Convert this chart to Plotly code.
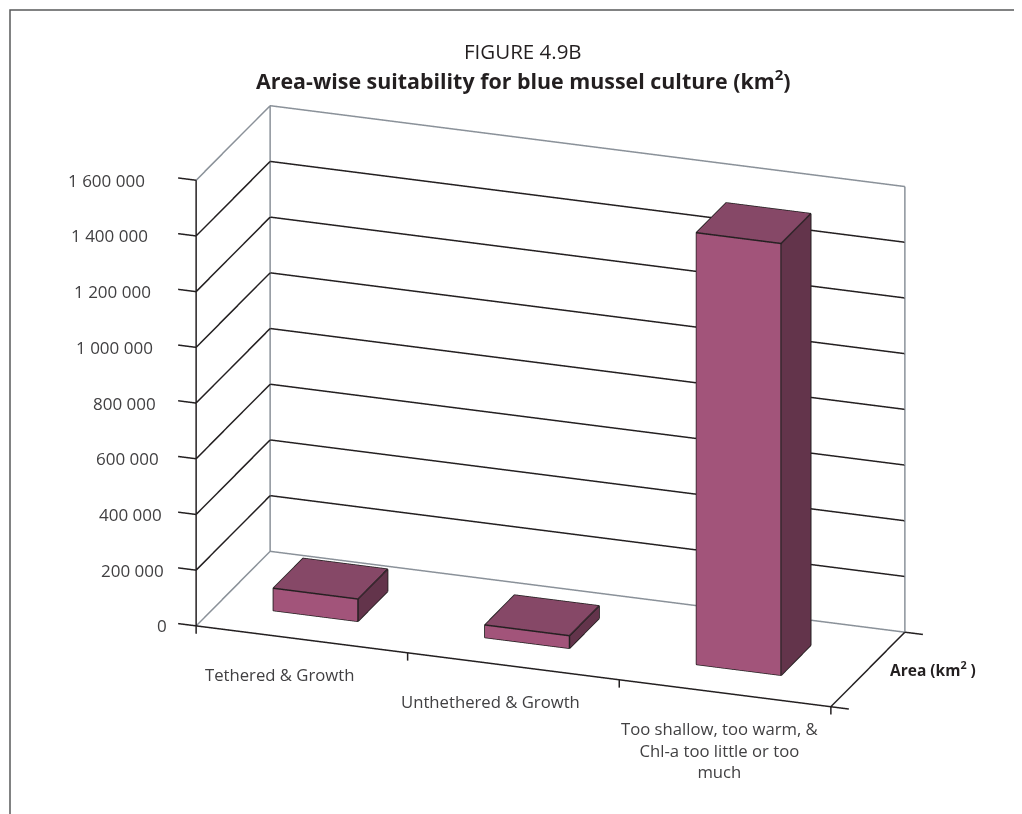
import plotly.graph_objects as go

categories = ["Tethered & Growth", "Unthethered & Growth",
              "Too shallow, too warm, &<br>Chl-a too little or too<br>much"]
values = [80000, 45000, 1550000]
z_ticks = [0, 200000, 400000, 600000, 800000, 1000000, 1200000, 1400000, 1600000]
z_labels = ["0", "200 000", "400 000", "600 000", "800 000", "1 000 000",
            "1 200 000", "1 400 000", "1 600 000"]
series_name = "Area (km<sup>2</sup> )"

FRONT, TOP, SIDE = "#a2547a", "#864867", "#63344b"
EDGE, WALL = "#231f20", "#8a9199"
TEXT = "#414042"
BAR_W, BAR_D, BAR_C = 0.40, 0.40, 0.46
LABEL_SHIFT = [-22, -23, -5]
TICK_DX, TICK_DZ = 0.085, 28000
FONT = "Open Sans"
zmax = z_ticks[-1]
ncat = len(categories)
LW = 3

fig = go.Figure()


def seg(xs, ys, zs, col=EDGE):
    fig.add_trace(go.Scatter3d(x=xs, y=ys, z=zs, mode="lines",
                               line=dict(color=col, width=LW), showlegend=False, hoverinfo="skip"))


# walls / floor frame
seg([0, 0, ncat, ncat], [0, 1, 1, 0], [0, 0, 0, 0], WALL)
seg([0, 0, ncat, ncat], [0, 1, 1, 1], [zmax] * 4, WALL)
seg([0, 0], [1, 1], [0, zmax], WALL)
seg([ncat, ncat], [1, 1], [0, zmax], WALL)

# gridlines on the two walls
for t in z_ticks[1:-1]:
    seg([0, 0, ncat], [0, 1, 1], [t, t, t])

# axis lines and tick marks
seg([0, ncat], [0, 0], [0, 0])
seg([ncat, ncat], [0, 1], [0, 0])
seg([0, 0], [0, 0], [0, zmax])
for t in z_ticks:
    seg([0, -TICK_DX], [0, 0], [t, t])
for k in range(ncat + 1):
    seg([k, k], [0, 0], [0, -TICK_DZ])
for d in (0, 1):
    seg([ncat, ncat + TICK_DX], [d, d], [0, 0])

# bars
for i, v in enumerate(values):
    x0, x1 = i + BAR_C - BAR_W / 2, i + BAR_C + BAR_W / 2
    y0, y1 = 0.5 - BAR_D / 2, 0.5 + BAR_D / 2
    vx = [x0, x1, x1, x0, x0, x1, x1, x0]
    vy = [y0, y0, y1, y1, y0, y0, y1, y1]
    vz = [0, 0, 0, 0, v, v, v, v]
    faces = [(0, 1, 5, FRONT), (0, 5, 4, FRONT), (1, 2, 6, SIDE), (1, 6, 5, SIDE),
             (4, 5, 6, TOP), (4, 6, 7, TOP)]
    fig.add_trace(go.Mesh3d(x=vx, y=vy, z=vz,
                            i=[f[0] for f in faces], j=[f[1] for f in faces], k=[f[2] for f in faces],
                            facecolor=[f[3] for f in faces], flatshading=True,
                            lighting=dict(ambient=1, diffuse=0, specular=0, fresnel=0, roughness=1),
                            showscale=False, hoverinfo="skip"))
    seg([x0, x1, x1, x0, x0, x0, x1, None, x1, x1, x1, None, x1, x1],
        [y0, y0, y1, y1, y0, y0, y0, None, y0, y0, y1, None, y1, y1],
        [v, v, v, v, v, 0, 0, None, v, 0, 0, None, 0, v])

annots = [dict(x=i + 0.5, y=0, z=0, text=c, showarrow=False, yanchor="top", yshift=-22, xshift=LABEL_SHIFT[i],
               font=dict(family=FONT, size=16.7, color=TEXT)) for i, c in enumerate(categories)]
annots.append(dict(x=ncat, y=0.5, z=0, text="<b>" + series_name + "</b>", showarrow=False,
                   xanchor="left", xshift=20, font=dict(family=FONT, size=15.5, color=EDGE)))
annots += [dict(x=0, y=0, z=t, text=l, showarrow=False, xanchor="right", xshift=-27 - 22 * t / zmax,
                font=dict(family=FONT, size=17, color=TEXT)) for t, l in zip(z_ticks, z_labels)]

hidden = dict(showbackground=False, showgrid=False, zeroline=False, showline=False, ticks="",
              showticklabels=False, title=dict(text=""), showspikes=False)
W, H = 1014, 806   # the page adds an 8 px body margin
fig.update_layout(
    width=W, height=H, margin=dict(l=0, r=0, t=0, b=0), autosize=False,
    paper_bgcolor="white", showlegend=False,
    annotations=[
        dict(xref="paper", yref="paper", x=515 / W, y=1 - 43 / H, text="FIGURE 4.9B", showarrow=False,
             xanchor="center", yanchor="middle", font=dict(family=FONT, size=20.5, color=EDGE)),
        dict(xref="paper", yref="paper", x=515 / W, y=1 - 71 / H,
             text="<b>Area-wise suitability for blue mussel culture (km<sup>2</sup>)</b>", showarrow=False,
             xanchor="center", yanchor="middle", font=dict(family=FONT, size=21.4, color=EDGE)),
    ],
    scene=dict(
        domain=dict(x=[0.07, 1], y=[0.005, 1]),
        aspectmode="manual", aspectratio=dict(x=1.792, y=0.551, z=1.22),
        camera=dict(eye=dict(x=0.9, y=-2.53, z=1.03), center=dict(x=0, y=0, z=0), up=dict(x=0, y=0, z=1),
                    projection=dict(type="orthographic")),
        xaxis=dict(hidden, range=[-0.1, ncat + 0.1]),
        yaxis=dict(hidden, range=[0, 1]),
        zaxis=dict(hidden, range=[-30000, zmax + 10000]),
        annotations=annots,
    ),
    shapes=[dict(type="path", xref="paper", yref="paper",
                 path=f"M {2 / W},0 L {2 / W},{1 - 2 / H} L 1,{1 - 2 / H}",
                 line=dict(color="#58595b", width=1.5))],
)
fig.write_html("out.html")
